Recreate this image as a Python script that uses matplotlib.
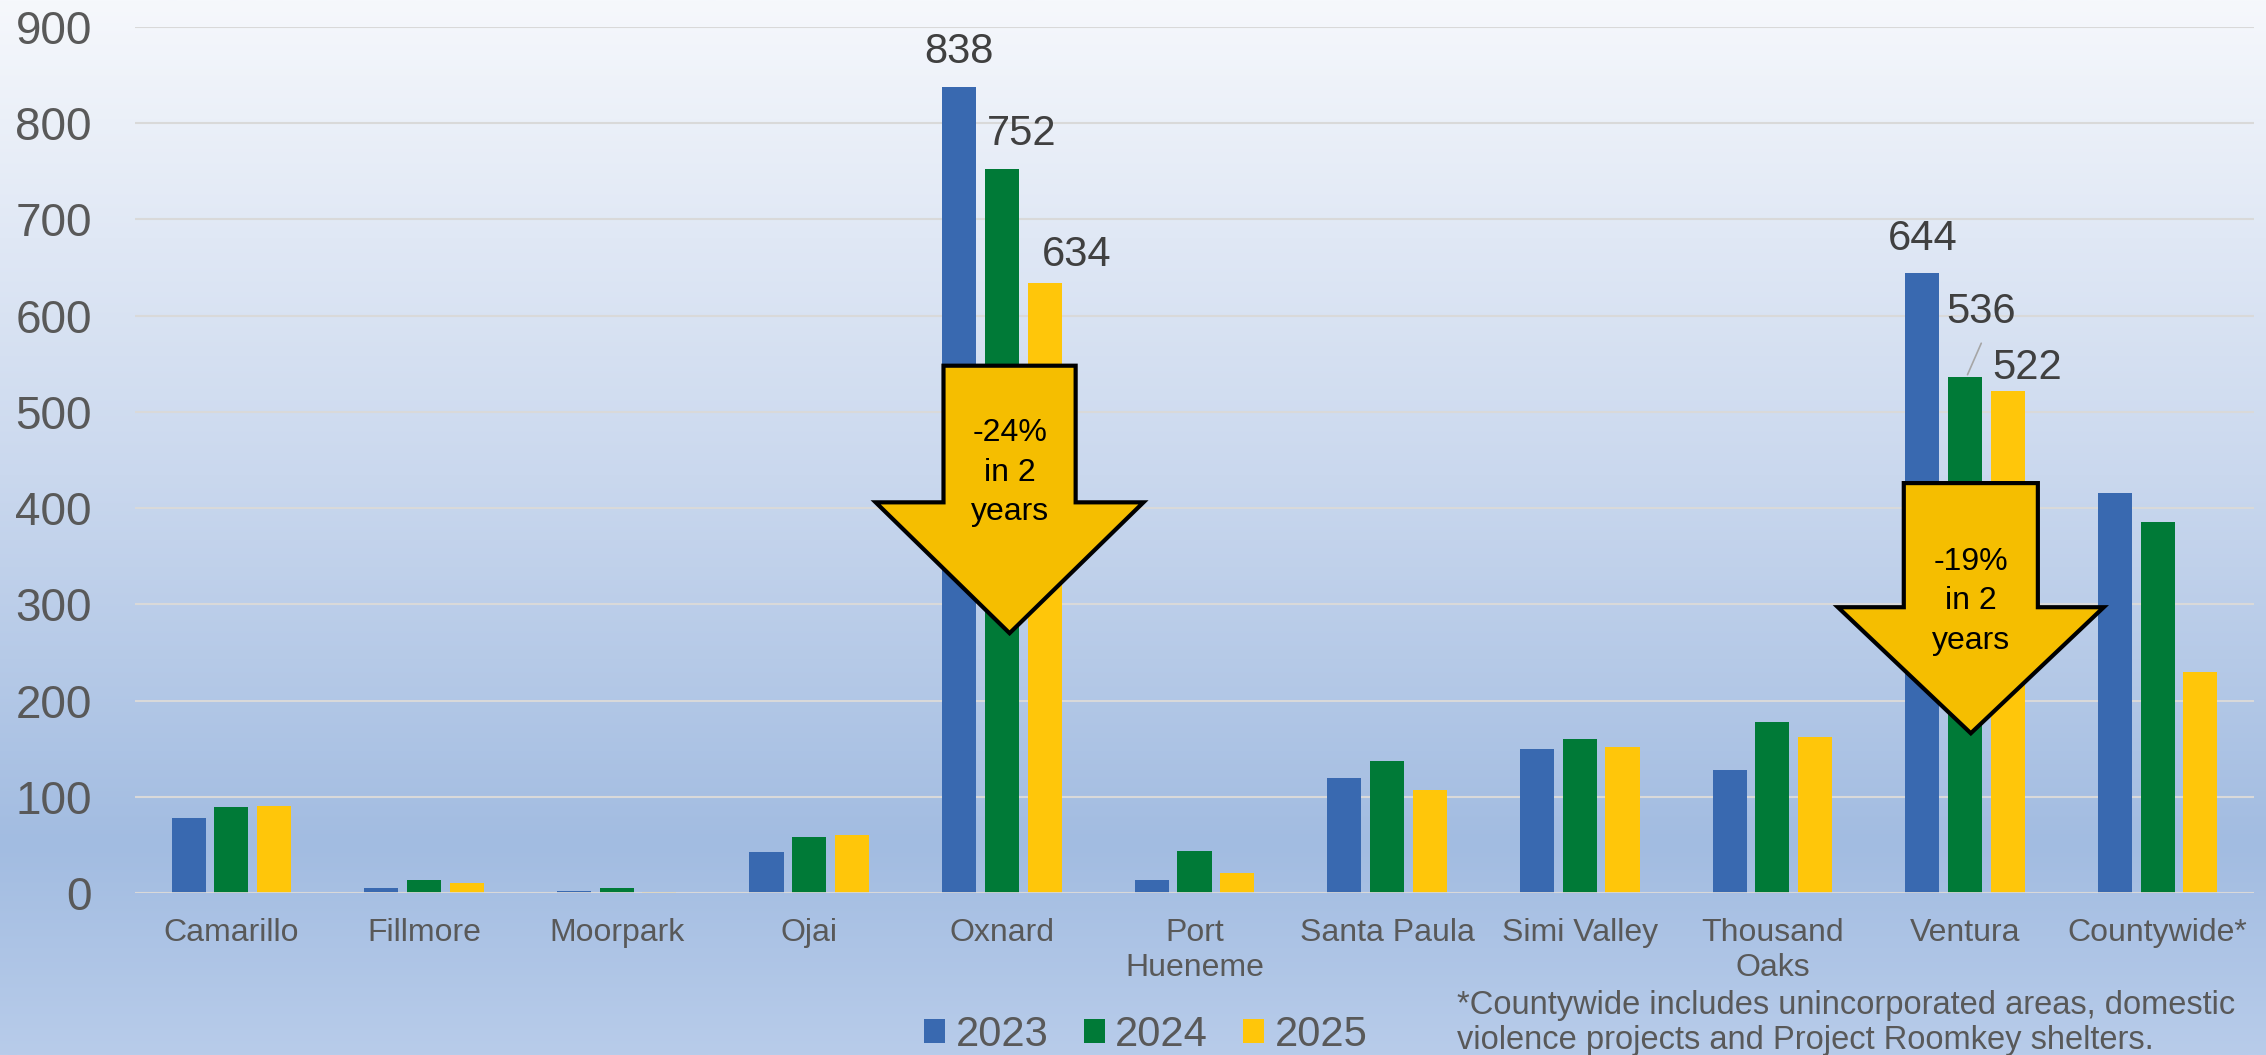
import matplotlib
matplotlib.use("Agg")
import matplotlib.pyplot as plt
import numpy as np
from matplotlib.patches import Polygon, Patch

plt.rcParams["font.family"] = ["Liberation Sans", "DejaVu Sans"]

CATEGORIES = ["Camarillo", "Fillmore", "Moorpark", "Ojai", "Oxnard", "Port\nHueneme",
              "Santa Paula", "Simi Valley", "Thousand\nOaks", "Ventura", "Countywide*"]
YEARS = ["2023", "2024", "2025"]
VALUES_2023 = [78, 5, 2, 43, 838, 13, 120, 150, 128, 644, 416]
VALUES_2024 = [89, 13, 5, 58, 752, 44, 137, 160, 178, 536, 386]
VALUES_2025 = [90, 10, 1, 60, 634, 21, 107, 152, 162, 522, 230]
Y_TICKS = [0, 100, 200, 300, 400, 500, 600, 700, 800, 900]

COLORS = ["#3969b0", "#007a37", "#ffc60a"]
ARROW_FILL = "#f5be00"
TEXT_GRAY = "#595959"
LABEL_DARK = "#404040"
FOOTNOTE = "*Countywide includes unincorporated areas, domestic\nviolence projects and Project Roomkey shelters."

# labelled bars: (category index, series index, x offset px, y offset px)
LABELLED = [(4, 0, 0, 35), (4, 1, 20, 35), (4, 2, 32, 28),
            (9, 0, 0, 34), (9, 1, 16, 65), (9, 2, 19, 23)]

# arrows: (x centre, top, head base, tip, shaft half-width, head half-width, text, text y)
ARROWS = [(4.04, 548, 406, 270, 0.343, 0.695, "-24%\nin 2\nyears", 437),
          (9.03, 426, 297, 166, 0.348, 0.690, "-19%\nin 2\nyears", 303)]

W, H = 2266, 1055
fig = plt.figure(figsize=(W / 100, H / 100), dpi=100)

# background gradient
bg = fig.add_axes([0, 0, 1, 1], zorder=-10)
stops = np.array([0.0, 0.45, 0.80, 1.0])
cols = np.array([[246, 248, 252], [202, 216, 238], [162, 188, 225], [184, 204, 234]]) / 255
t = np.linspace(0, 1, 512)
grad = np.stack([np.interp(t, stops, cols[:, k]) for k in range(3)], axis=1)
bg.imshow(grad[:, None, :], aspect="auto", extent=[0, 1, 0, 1])
bg.axis("off")

ax = fig.add_axes([135 / W, (H - 893) / H, (2254 - 135) / W, (893 - 27) / H])
ax.set_facecolor("none")

x = np.arange(len(CATEGORIES))
pitch = 0.222
width = 0.177
series = [VALUES_2023, VALUES_2024, VALUES_2025]
for k, vals in enumerate(series):
    ax.bar(x + (k - 1) * pitch, vals, width, color=COLORS[k], zorder=3)

ax.set_xlim(-0.5, len(CATEGORIES) - 0.5)
ax.set_ylim(0, 900)
ax.set_yticks(Y_TICKS)
ax.set_xticks(x)
ax.set_xticklabels(CATEGORIES, fontsize=23, color=TEXT_GRAY, linespacing=1.2)
ax.tick_params(axis="y", length=0, pad=31, labelsize=33, labelcolor=TEXT_GRAY)
ax.tick_params(axis="x", length=0, pad=18)
ax.grid(axis="y", color="#d9d9d9", linewidth=1.5, zorder=0)
for s in ax.spines.values():
    s.set_visible(False)
ax.axhline(0, color="#d9d9d9", linewidth=2, zorder=4)

# data labels
for ci, si, dx, dy in LABELLED:
    xb = x[ci] + (si - 1) * pitch
    v = series[si][ci]
    ax.annotate(str(v), xy=(xb, v), xytext=(dx * 0.72, dy * 0.72), textcoords="offset points",
                ha="center", va="center", fontsize=30, color=LABEL_DARK, zorder=6)
    if dy > 50:
        ax.annotate("", xy=(xb + 0.007, v), xytext=(xb + 0.09, v + 38),
                    arrowprops=dict(arrowstyle="-", color="#a6a6a6", lw=1.2), zorder=6)

# down arrows
for xc, top, base, tip, shw, hhw, label, ty in ARROWS:
    pts = [(xc - shw, top), (xc + shw, top), (xc + shw, base), (xc + hhw, base),
           (xc, tip), (xc - hhw, base), (xc - shw, base)]
    ax.add_patch(Polygon(pts, closed=True, facecolor=ARROW_FILL, edgecolor="black",
                         linewidth=3, joinstyle="miter", zorder=7))
    ax.text(xc, ty, label, ha="center", va="center", fontsize=23, color="black",
            linespacing=1.4, zorder=8)

handles = [Patch(facecolor=c) for c in COLORS]
fig.legend(handles, YEARS, loc="center", bbox_to_anchor=(1146 / W, 1 - 1035 / H),
           ncol=3, frameon=False, fontsize=30, labelcolor=TEXT_GRAY,
           handlelength=0.5, handleheight=0.52, handletextpad=0.25, columnspacing=0.85,
           borderpad=0, borderaxespad=0)

fig.text(1457 / W, 1 - 1023 / H, FOOTNOTE, ha="left", va="center", fontsize=23.5,
         color=TEXT_GRAY, linespacing=1.13)

fig.savefig("out.png", dpi=100)
